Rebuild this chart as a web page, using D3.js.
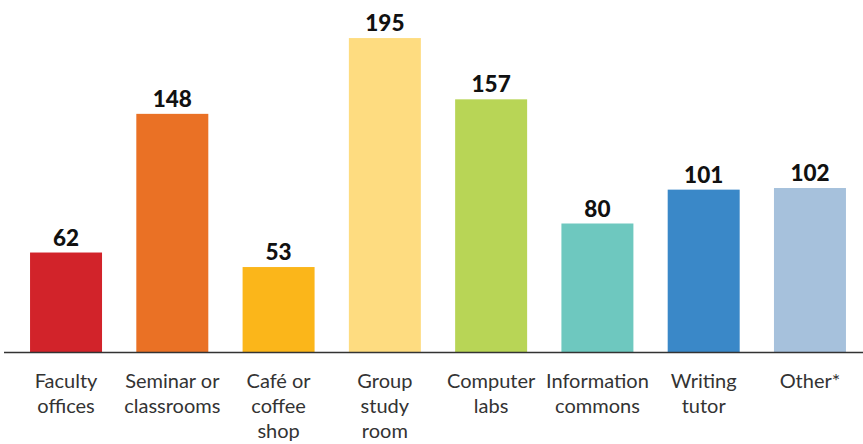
<!DOCTYPE html>
<html>
<head>
<meta charset="utf-8">
<script src="https://cdn.jsdelivr.net/npm/d3@7"></script>
<style>
  body { margin: 0; background: #fff; }
  .value { font-family: Lato, "Noto Sans", sans-serif; font-weight: 900; font-size: 22.5px; fill: #111; }
  .cat { font-family: Lato, "Noto Sans", sans-serif; font-size: 20px; fill: #333; }
</style>
</head>
<body>
<svg id="chart" width="863" height="444"></svg>
<script>
const categories = [
  ['Faculty', 'offices'],
  ['Seminar or', 'classrooms'],
  ['Café or', 'coffee', 'shop'],
  ['Group', 'study', 'room'],
  ['Computer', 'labs'],
  ['Information', 'commons'],
  ['Writing', 'tutor'],
  ['Other*']
];
const values = [62, 148, 53, 195, 157, 80, 101, 102];
const colors = ['#d2232a', '#ea7125', '#fbb61a', '#fedc80', '#b8d556', '#6ec8bf', '#3a88c8', '#a6c1dc'];

const width = 863;
const baseline = 352.5;

const svg = d3.select('#chart');

const x = d3
  .scaleBand()
  .domain(d3.range(values.length))
  .range([12.9, 863.1])
  .paddingInner(0.3226)
  .paddingOuter(0.1613);

const y = d3.scaleLinear().domain([0, 200]).range([baseline, 30]);

// bars
svg
  .selectAll('rect.bar')
  .data(values)
  .enter()
  .append('rect')
  .attr('class', 'bar')
  .attr('x', (d, i) => x(i))
  .attr('y', d => y(d))
  .attr('width', x.bandwidth())
  .attr('height', d => baseline - y(d))
  .attr('fill', (d, i) => colors[i]);

// value labels
svg
  .selectAll('text.value')
  .data(values)
  .enter()
  .append('text')
  .attr('class', 'value')
  .attr('x', (d, i) => x(i) + x.bandwidth() / 2)
  .attr('y', d => y(d) - 7)
  .attr('text-anchor', 'middle')
  .text(d => d);

// baseline
svg
  .append('line')
  .attr('x1', 4)
  .attr('x2', width)
  .attr('y1', baseline)
  .attr('y2', baseline)
  .attr('stroke', '#333')
  .attr('stroke-width', 1.5);

// category labels, one tspan per line
const cat = svg
  .selectAll('text.cat')
  .data(categories)
  .enter()
  .append('text')
  .attr('class', 'cat')
  .attr('text-anchor', 'middle')
  .attr('transform', (d, i) => `translate(${x(i) + x.bandwidth() / 2},388)`);

cat
  .selectAll('tspan')
  .data(d => d)
  .enter()
  .append('tspan')
  .attr('x', 0)
  .attr('y', (d, j) => j * 25)
  .text(d => d);
</script>
</body>
</html>
